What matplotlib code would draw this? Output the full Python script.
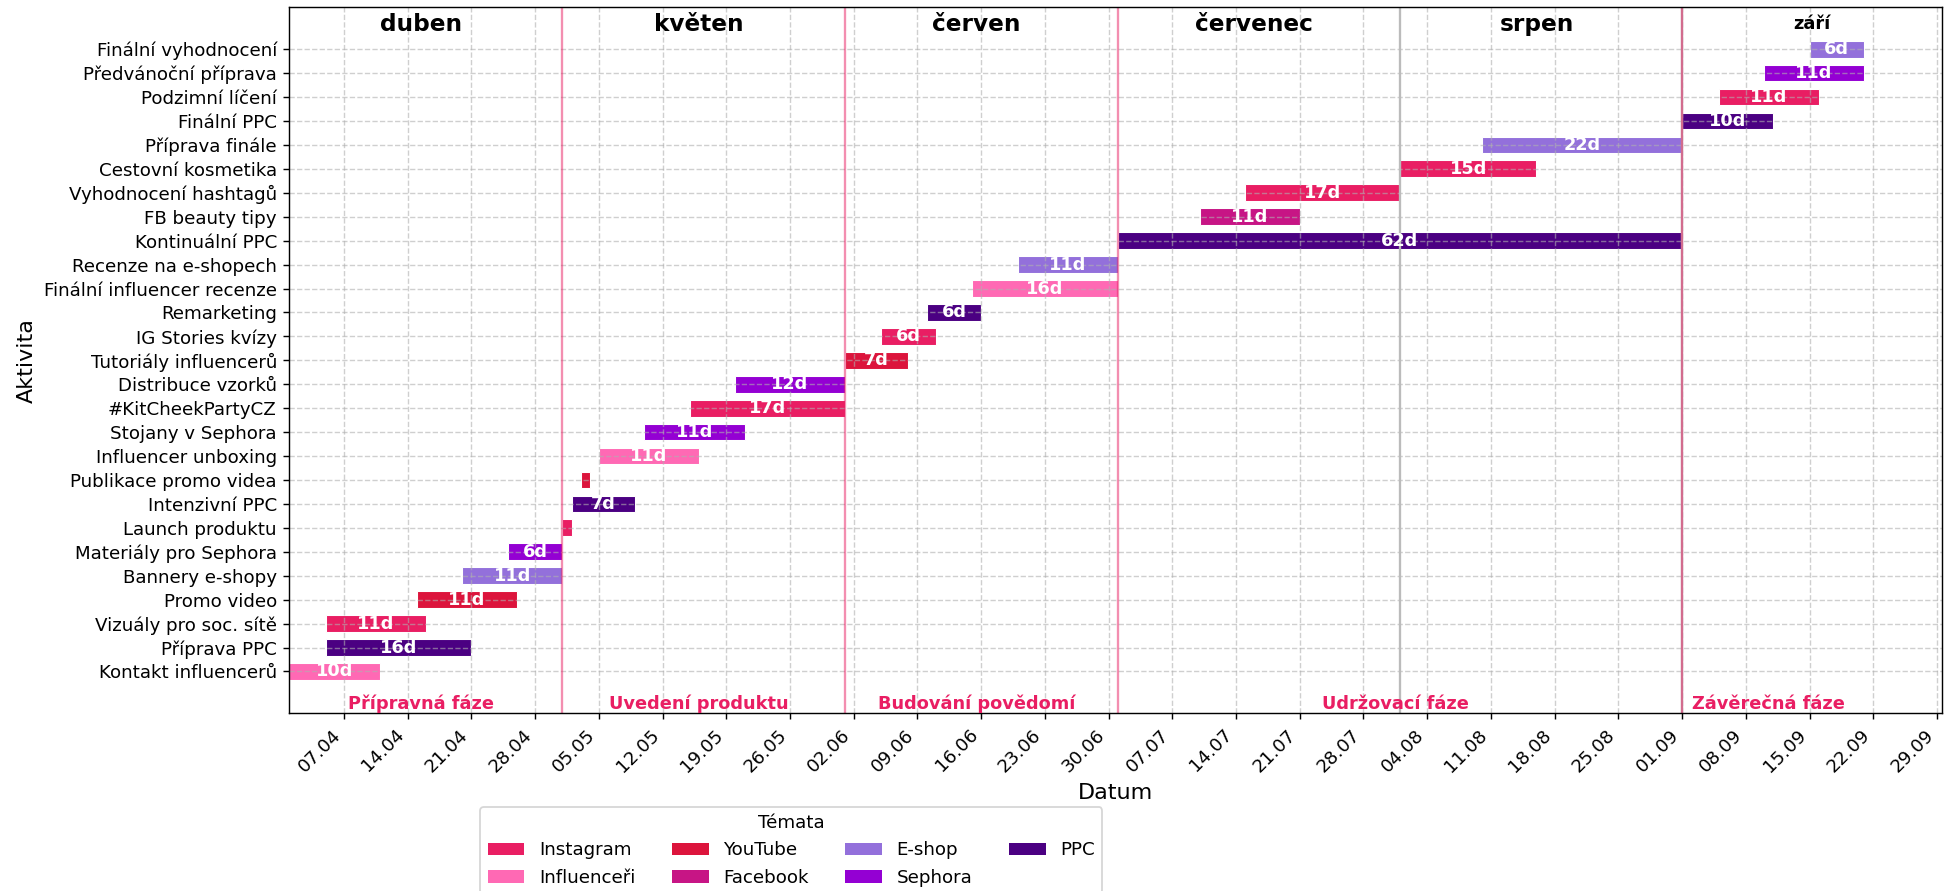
import pandas as pd
import matplotlib.pyplot as plt
import matplotlib.dates as mdates
from matplotlib.patches import Patch

# Aktivity kampaně (odspodu nahoru)
tasks = [
    "Kontakt influencerů", "Příprava PPC", "Vizuály pro soc. sítě", "Promo video",
    "Bannery e-shopy", "Materiály pro Sephora", "Launch produktu", "Intenzivní PPC",
    "Publikace promo videa", "Influencer unboxing", "Stojany v Sephora", "#KitCheekPartyCZ",
    "Distribuce vzorků", "Tutoriály influencerů", "IG Stories kvízy", "Remarketing",
    "Finální influencer recenze", "Recenze na e-shopech", "Kontinuální PPC", "FB beauty tipy",
    "Vyhodnocení hashtagů", "Cestovní kosmetika", "Příprava finále", "Finální PPC",
    "Podzimní líčení", "Předvánoční příprava", "Finální vyhodnocení",
]
starts = [
    "2025-04-01", "2025-04-05", "2025-04-05", "2025-04-15",
    "2025-04-20", "2025-04-25", "2025-05-01", "2025-05-02",
    "2025-05-03", "2025-05-05", "2025-05-10", "2025-05-15",
    "2025-05-20", "2025-06-01", "2025-06-05", "2025-06-10",
    "2025-06-15", "2025-06-20", "2025-07-01", "2025-07-10",
    "2025-07-15", "2025-08-01", "2025-08-10", "2025-09-01",
    "2025-09-05", "2025-09-10", "2025-09-15",
]
durations = [10, 16, 11, 11, 11, 6, 1, 7, 1, 11, 11, 17, 12, 7, 6, 6,
             16, 11, 62, 11, 17, 15, 22, 10, 11, 11, 6]
topics = [
    "Influenceři", "PPC", "Instagram", "YouTube", "E-shop", "Sephora", "Instagram", "PPC",
    "YouTube", "Influenceři", "Sephora", "Instagram", "Sephora", "YouTube", "Instagram", "PPC",
    "Influenceři", "E-shop", "PPC", "Facebook", "Instagram", "Instagram", "E-shop", "PPC",
    "Instagram", "Sephora", "E-shop",
]

topic_names = ["Instagram", "Influenceři", "YouTube", "Facebook", "E-shop", "Sephora", "PPC"]
topic_colors = ["#E91E63", "#FF69B4", "#DC143C", "#C71585", "#9370DB", "#9400D3", "#4B0082"]

# Fáze projektu
phase_names = ["Přípravná fáze", "Uvedení produktu", "Budování povědomí",
               "Udržovací fáze", "Závěrečná fáze"]
phase_starts = ["2025-04-01", "2025-05-01", "2025-06-01", "2025-07-01", "2025-09-01"]
phase_ends = ["2025-04-30", "2025-05-31", "2025-06-30", "2025-08-31", "2025-09-20"]

month_names = ["duben", "květen", "červen", "červenec", "srpen", "září"]
month_starts = ["2025-04-01", "2025-05-01", "2025-06-01", "2025-07-01", "2025-08-01", "2025-09-01"]
month_ends = ["2025-04-30", "2025-05-31", "2025-06-30", "2025-07-31", "2025-08-31", "2025-09-30"]
month_lines = ["2025-08-01", "2025-09-01"]

x_min = pd.Timestamp("2025-04-01")
x_max = pd.Timestamp("2025-09-29 14:00")

color_map = dict(zip(topic_names, topic_colors))
start_num = mdates.date2num(pd.to_datetime(starts))

fig = plt.figure(figsize=(1954 / 128, 891 / 128), dpi=128)
ax = fig.add_axes([0.1481, 0.1994, 0.8459, 0.7924])

ax.barh(range(len(tasks)), durations, left=start_num, height=0.7,
        color=[color_map[t] for t in topics], edgecolor="white", linewidth=0.6)

for i, (s, d) in enumerate(zip(start_num, durations)):
    if d > 1:
        ax.text(s + d / 2, i, f"{d}d", ha="center", va="center",
                color="white", fontsize=10, fontweight="bold", zorder=5)

ax.set_xlim(mdates.date2num(x_min), mdates.date2num(x_max))
ax.set_ylim(-1.75, len(tasks) + 0.75)
ax.set_yticks(range(len(tasks)))
ax.set_yticklabels(tasks, fontsize=10.3)

ax.xaxis.set_major_locator(mdates.WeekdayLocator(byweekday=mdates.MO))
ax.xaxis.set_major_formatter(mdates.DateFormatter("%d.%m"))
plt.setp(ax.get_xticklabels(), rotation=45, ha="right", fontsize=10.3)

ax.grid(True, linestyle="--", alpha=0.6)

# hranice měsíců a fází
for m in month_lines:
    ax.axvline(pd.Timestamp(m), color="#BBBBBB", linewidth=1.3, zorder=2)
for p in phase_starts[1:]:
    ax.axvline(pd.Timestamp(p), color="#E91E63", alpha=0.5, linewidth=1.3, zorder=2)

# názvy měsíců nahoře (zkrácený poslední měsíc menším písmem)
x_max_num = mdates.date2num(x_max)
for name, ms, me in zip(month_names, month_starts, month_ends):
    a = mdates.date2num(pd.Timestamp(ms))
    b = min(mdates.date2num(pd.Timestamp(me)), x_max_num)
    size = 13 if b - a >= 29 else 10
    ax.text((a + b) / 2, len(tasks) + 0.05, name, ha="center", va="center",
            fontsize=size, fontweight="bold")

# názvy fází dole
for name, ps, pe in zip(phase_names, phase_starts, phase_ends):
    a = mdates.date2num(pd.Timestamp(ps))
    b = mdates.date2num(pd.Timestamp(pe))
    ax.text((a + b) / 2, -1.72, name, ha="center", va="bottom",
            fontsize=10, fontweight="bold", color="#E91E63")

ax.set_xlabel("Datum", fontsize=12.5)
ax.set_ylabel("Aktivita", fontsize=12.5)

handles = [Patch(facecolor=c, label=n) for n, c in zip(topic_names, topic_colors)]
fig.legend(handles=handles, title="Témata", ncol=4, loc="upper center",
           bbox_to_anchor=(0.405, 0.1046), fontsize=10.3, title_fontsize=10.3)

fig.savefig("out.png", dpi=128)
